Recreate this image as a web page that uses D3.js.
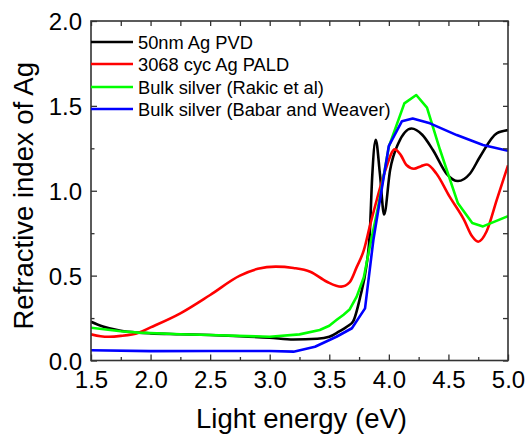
<!DOCTYPE html>
<html>
<head>
<meta charset="utf-8">
<script src="https://cdn.jsdelivr.net/npm/d3@7"></script>
<style>
  html, body { margin: 0; padding: 0; background: #fff; }
  svg { display: block; font-family: "Liberation Sans", Arial, sans-serif; }
</style>
</head>
<body>
<svg id="chart" width="527" height="436"></svg>
<script>
// Refractive index n of silver versus photon energy

const seriesNames = [
  "50nm Ag PVD",
  "3068 cyc Ag PALD",
  "Bulk silver (Rakic et al)",
  "Bulk silver (Babar and Weaver)"
];
const seriesColors = ["#000000", "#ff0000", "#00ff00", "#0000ff"];

const pvdEnergy = [1.5, 1.6, 1.75, 1.9, 2.0, 2.25, 2.5, 2.75, 3.0, 3.2, 3.4, 3.5, 3.58, 3.65, 3.7, 3.76, 3.81, 3.84, 3.86, 3.89, 3.925, 3.96, 4.01, 4.08, 4.19, 4.28, 4.37, 4.485, 4.58, 4.68, 4.765, 4.905, 5.0];
const pvdN      = [0.228, 0.2, 0.175, 0.164, 0.16, 0.155, 0.15, 0.143, 0.134, 0.124, 0.128, 0.14, 0.17, 0.2, 0.23, 0.376, 0.55, 0.75, 1.08, 1.30, 1.1, 0.86, 1.12, 1.28, 1.367, 1.33, 1.24, 1.10, 1.057, 1.10, 1.20, 1.338, 1.357];

const paldEnergy = [1.5, 1.58, 1.65, 1.75, 1.9, 2.0, 2.25, 2.5, 2.75, 2.9, 3.05, 3.2, 3.34, 3.48, 3.6, 3.67, 3.73, 3.79, 3.84, 3.9, 3.97, 4.05, 4.1, 4.15, 4.21, 4.27, 4.32, 4.40, 4.51, 4.63, 4.7, 4.75, 4.82, 4.905, 5.0];
const paldN      = [0.154, 0.143, 0.14, 0.145, 0.164, 0.195, 0.278, 0.386, 0.50, 0.54, 0.553, 0.545, 0.523, 0.464, 0.435, 0.46, 0.55, 0.65, 0.79, 0.95, 1.12, 1.244, 1.21, 1.15, 1.13, 1.145, 1.155, 1.10, 0.965, 0.83, 0.73, 0.70, 0.76, 0.945, 1.15];

const rakicEnergy = [1.5, 1.75, 1.9, 2.25, 2.5, 3.0, 3.25, 3.42, 3.5, 3.56, 3.62, 3.67, 3.73, 3.79, 3.84, 3.91, 4.0, 4.13, 4.23, 4.32, 4.43, 4.58, 4.7, 4.79, 5.0];
const rakicN      = [0.193, 0.172, 0.164, 0.155, 0.15, 0.14, 0.154, 0.18, 0.205, 0.238, 0.27, 0.30, 0.376, 0.49, 0.67, 0.905, 1.26, 1.515, 1.564, 1.49, 1.24, 0.926, 0.81, 0.79, 0.85];

const babarEnergy = [1.5, 2.0, 2.5, 3.0, 3.2, 3.38, 3.56, 3.69, 3.8, 3.87, 4.0, 4.11, 4.2, 4.345, 4.57, 4.79, 5.0];
const babarN      = [0.06, 0.055, 0.056, 0.056, 0.052, 0.081, 0.14, 0.19, 0.307, 0.71, 1.265, 1.41, 1.426, 1.397, 1.328, 1.27, 1.235];

const xTicks = [1.5, 2.0, 2.5, 3.0, 3.5, 4.0, 4.5, 5.0];
const yTicks = [0.0, 0.5, 1.0, 1.5, 2.0];
const xMinorTicks = [1.75, 2.25, 2.75, 3.25, 3.75, 4.25, 4.75];
const yMinorTicks = [0.25, 0.75, 1.25, 1.75];

const series = [
  { energy: pvdEnergy, n: pvdN, smooth: true },
  { energy: paldEnergy, n: paldN, smooth: true },
  { energy: rakicEnergy, n: rakicN, smooth: false },
  { energy: babarEnergy, n: babarN, smooth: false }
];

const plot = { left: 91, right: 508, top: 21, bottom: 360.5 };
const svg = d3.select("#chart");

const x = d3.scaleLinear().domain([1.5, 5.0]).range([plot.left, plot.right]);
const y = d3.scaleLinear().domain([0, 2.0]).range([plot.bottom, plot.top]);

// data curves, clipped to the frame
svg.append("defs").append("clipPath").attr("id", "plotClip")
  .append("rect")
  .attr("x", plot.left).attr("y", plot.top)
  .attr("width", plot.right - plot.left).attr("height", plot.bottom - plot.top);

const curves = svg.append("g").attr("clip-path", "url(#plotClip)");
series.forEach((s, i) => {
  const pts = s.energy.map((e, j) => [e, s.n[j]]);
  const line = d3.line()
    .x(d => x(d[0])).y(d => y(d[1]))
    .curve(s.smooth ? d3.curveMonotoneX : d3.curveLinear);
  curves.append("path")
    .datum(pts)
    .attr("fill", "none")
    .attr("stroke", seriesColors[i])
    .attr("stroke-width", 2.6)
    .attr("stroke-linejoin", "round")
    .attr("d", line);
});

// axes with inward ticks on all four sides
const axisColor = "#333";
const major = 6, minor = 3.5;
function styleAxis(g) {
  g.select(".domain").remove();
  g.selectAll(".tick line").attr("stroke", axisColor).attr("stroke-width", 1.3);
}

svg.append("g").attr("transform", `translate(0,${plot.bottom})`)
  .call(d3.axisBottom(x).tickValues(xTicks).tickSize(-major).tickFormat(d3.format(".1f")))
  .call(styleAxis)
  .call(g => g.selectAll(".tick text")
    .attr("y", 27.5).attr("dy", 0)
    .attr("font-size", 24).attr("fill", "#000")
    .attr("font-family", "Liberation Sans, Arial, sans-serif"));
svg.append("g").attr("transform", `translate(0,${plot.bottom})`)
  .call(d3.axisBottom(x).tickValues(xMinorTicks).tickSize(-minor).tickFormat(""))
  .call(styleAxis);
svg.append("g").attr("transform", `translate(0,${plot.top})`)
  .call(d3.axisTop(x).tickValues(xTicks.concat(xMinorTicks)).tickSize(-major + 1).tickFormat(""))
  .call(styleAxis);

svg.append("g").attr("transform", `translate(${plot.left},0)`)
  .call(d3.axisLeft(y).tickValues(yTicks).tickSize(-major).tickFormat(d3.format(".1f")))
  .call(styleAxis)
  .call(g => g.selectAll(".tick text")
    .attr("x", -9).attr("dy", "0.36em")
    .attr("font-size", 24).attr("fill", "#000")
    .attr("font-family", "Liberation Sans, Arial, sans-serif"));
svg.append("g").attr("transform", `translate(${plot.left},0)`)
  .call(d3.axisLeft(y).tickValues(yMinorTicks).tickSize(-minor).tickFormat(""))
  .call(styleAxis);
svg.append("g").attr("transform", `translate(${plot.right},0)`)
  .call(d3.axisRight(y).tickValues(yTicks.concat(yMinorTicks)).tickSize(-major + 1).tickFormat(""))
  .call(styleAxis);

// frame
svg.append("rect")
  .attr("x", plot.left).attr("y", plot.top)
  .attr("width", plot.right - plot.left).attr("height", plot.bottom - plot.top)
  .attr("fill", "none").attr("stroke", axisColor).attr("stroke-width", 1.6);

// axis titles
svg.append("text")
  .attr("x", (plot.left + plot.right) / 2 + 2).attr("y", 428)
  .attr("text-anchor", "middle").attr("font-size", 27.5).attr("fill", "#000")
  .text("Light energy (eV)");
svg.append("text")
  .attr("transform", `translate(33,${(plot.top + plot.bottom) / 2 + 5}) rotate(-90)`)
  .attr("text-anchor", "middle").attr("font-size", 27.5).attr("fill", "#000")
  .text("Refractive index of Ag");

// legend
const legendY = [42, 64, 87, 109];
const legend = svg.append("g");
seriesNames.forEach((name, i) => {
  legend.append("line")
    .attr("x1", plot.left).attr("x2", 133)
    .attr("y1", legendY[i]).attr("y2", legendY[i])
    .attr("stroke", seriesColors[i]).attr("stroke-width", 2.6);
  legend.append("text")
    .attr("x", 138).attr("y", legendY[i] + 6.5)
    .attr("font-size", 18.3).attr("fill", "#000")
    .text(name);
});
</script>
</body>
</html>
